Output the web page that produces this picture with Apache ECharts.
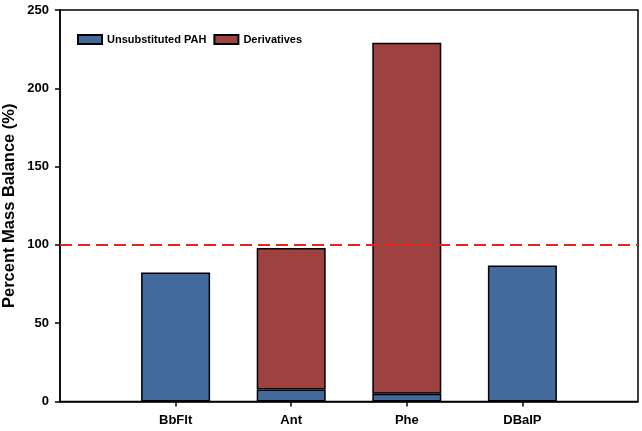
<!DOCTYPE html>
<html><head><meta charset="utf-8">
<script src="https://cdn.jsdelivr.net/npm/echarts@6/dist/echarts.min.js"></script>
<style>html,body{margin:0;padding:0;background:#fff}#c{width:642px;height:431px}</style>
</head><body><div id="c"></div>
<script>
const categories = ['BbFlt', 'Ant', 'Phe', 'DBaIP'];
const unsubstituted = [82.3, 7.7, 4.9, 86.8];
const derivatives = [null, 90.4, 224.2, null];
const referenceLine = 100;
const yTicks = [0, 50, 100, 150, 200, 250];

// pad with empty slots at both ends so the four groups sit at 1..4 of a 0..5 axis
const xCats = [''].concat(categories, ['']);
const pad = arr => [null].concat(arr, [null]);
const font = 'Arial, "Liberation Sans", sans-serif';
const chart = echarts.init(document.getElementById('c'));
chart.setOption({
  animation: false,
  grid: { left: 60, right: 4, top: 10, bottom: 29.5, outerBoundsMode: 'none', containLabel: false,
    show: true, borderColor: '#000', borderWidth: 1.5, backgroundColor: 'transparent' },
  legend: {
    left: 72, top: 29, itemWidth: 24, itemHeight: 9, itemGap: 7, icon: 'rect',
    textStyle: { fontFamily: font, fontWeight: 'bold', fontSize: 11, color: '#000' },
    data: ['Unsubstituted PAH', 'Derivatives']
  },
  xAxis: {
    type: 'category', data: xCats, boundaryGap: false,
    splitLine: { show: false },
    axisLine: { show: true, lineStyle: { color: '#000', width: 1.5 } },
    axisTick: { show: true, length: 5, interval: (i, v) => v !== '', lineStyle: { color: '#000', width: 1.5 } },
    axisLabel: { interval: 0, margin: 12, fontFamily: font, fontWeight: 'bold', fontSize: 13, color: '#000' }
  },
  yAxis: {
    type: 'value', min: 0, max: 250, interval: 50,
    name: 'Percent Mass Balance (%)', nameLocation: 'middle', nameGap: 42, nameMoveOverlap: false,
    nameTextStyle: { fontFamily: font, fontWeight: 'bold', fontSize: 16.5, color: '#000' },
    splitLine: { show: false },
    axisLine: { show: true, lineStyle: { color: '#000', width: 1.5 } },
    axisTick: { show: true, length: 5, inside: false, lineStyle: { color: '#000', width: 1.5 } },
    axisLabel: { margin: 11, fontFamily: font, fontWeight: 'bold', fontSize: 13, color: '#000',
      formatter: v => yTicks.includes(v) ? String(v) : '' }
  },
  series: [
    {
      name: 'Unsubstituted PAH', type: 'bar', stack: 'a', barWidth: 69,
      itemStyle: { color: '#426a9c', borderColor: '#000', borderWidth: 1.5 },
      data: pad(unsubstituted),
      markLine: {
        silent: true, symbol: 'none', label: { show: false },
        lineStyle: { color: '#e8231e', type: [12, 6], width: 2 },
        data: [{ yAxis: referenceLine }]
      }
    },
    {
      name: 'Derivatives', type: 'bar', stack: 'a', barWidth: 69,
      itemStyle: { color: '#9d4240', borderColor: '#000', borderWidth: 1.5 },
      data: pad(derivatives)
    }
  ]
});
</script></body></html>
